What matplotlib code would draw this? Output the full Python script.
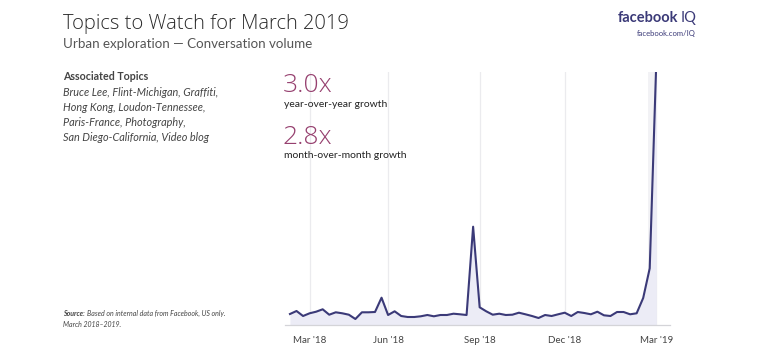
import matplotlib
matplotlib.use("Agg")
import matplotlib.pyplot as plt

plt.rcParams["font.family"] = ["Lato", "DejaVu Sans"]

# weekly conversation volume (relative units), Feb 2018 - Mar 2019
volume = [11, 14, 9, 11.7, 13.3, 15.7, 10.3, 12.7, 11.7, 10.3,
          6, 12.7, 12.7, 13, 27.3, 10, 13.7, 9, 8, 8,
          8.7, 10, 8.7, 10, 10, 11.3, 10.7, 10, 98.3, 17.7,
          13.7, 10.3, 11.3, 10, 10.3, 12.3, 10.7, 9, 7, 10,
          9, 10.7, 12.3, 9, 13, 12, 10.7, 13.3, 9.7, 9,
          13, 13, 10.7, 11.7, 27, 56.7, 262]
tick_weeks = [3, 15, 29, 42, 56]
tick_labels = ["Mar '18", "Jun '18", "Sep '18", "Dec '18", "Mar '19"]
topics = ["Bruce Lee, Flint-Michigan, Graffiti,",
          "Hong Kong, Loudon-Tennessee,",
          "Paris-France, Photography,",
          "San Diego-California, Video blog"]
yoy = "3.0x"
mom = "2.8x"

navy = "#3b3a78"
plum = "#96406f"
light_font = ["Open Sans", "Lato", "DejaVu Sans"]

fig = plt.figure(figsize=(7.7, 3.64), dpi=100)
fig.patch.set_facecolor("white")

ax = fig.add_axes([285 / 770, 39 / 364, 385 / 770, 253 / 364])
weeks = list(range(len(volume)))
ax.axvspan(weeks[-2] - 0.3, weeks[-1], color="#f2f2f5", lw=0, zorder=0)
for t in tick_weeks:
    ax.axvline(t, color="#ebebee", lw=0.9, zorder=0)
ax.fill_between(weeks, volume, 0, color="#ececf6", lw=0, zorder=1)
ax.plot(weeks, volume, color=navy, lw=1.5, zorder=3)
ax.set_xlim(-0.76, 58.1)
ax.set_ylim(0, 253)
ax.set_yticks([])
ax.set_xticks(tick_weeks)
ax.set_xticklabels(tick_labels, fontsize=7, color="#444444")
ax.tick_params(axis="x", length=0, pad=8)
for s in ["top", "right", "left"]:
    ax.spines[s].set_visible(False)
ax.spines["bottom"].set_color("#d4d4d8")
ax.spines["bottom"].set_linewidth(0.9)

# headline
fig.text(63 / 770, 1 - 29 / 364, "Topics to Watch for March 2019", fontsize=14.5,
         family=light_font, fontweight="light", color="#2a2a2a")
fig.text(63 / 770, 1 - 48 / 364, "Urban exploration \u2014 Conversation volume",
         fontsize=9.6, color="#555555")

# logo
fig.text(678 / 770, 1 - 22 / 364, "facebook", fontsize=10.5, fontweight="bold",
         color=navy, ha="right")
fig.text(681 / 770, 1 - 22 / 364, "IQ", fontsize=10.5, color=navy, ha="left")
fig.text(696 / 770, 1 - 36 / 364, "facebook.com/IQ", fontsize=5.5, color=navy,
         ha="right")

# associated topics
fig.text(63 / 770, 1 - 80 / 364, "Associated Topics", fontsize=7.7,
         fontweight="bold", color="#444444")
for i, line in enumerate(topics):
    fig.text(63 / 770, 1 - (96 + 15 * i) / 364, line, fontsize=7.8,
             style="italic", color="#444444")

# growth callouts
fig.text(283 / 770, 1 - 92 / 364, yoy, fontsize=19, family=light_font,
         fontweight="light", color=plum)
fig.text(284 / 770, 1 - 107 / 364, "year-over-year growth", fontsize=7.5, color="#222222")
fig.text(283 / 770, 1 - 144 / 364, mom, fontsize=19, family=light_font,
         fontweight="light", color=plum)
fig.text(284 / 770, 1 - 158 / 364, "month-over-month growth", fontsize=7.5, color="#222222")

# source
fig.text(63 / 770, 1 - 316 / 364, "Source:", fontsize=5, fontweight="bold",
         style="italic", color="#444444")
fig.text(87 / 770, 1 - 316 / 364, "Based on internal data from Facebook, US only.",
         fontsize=5, style="italic", color="#444444")
fig.text(63 / 770, 1 - 327 / 364, "March 2018\u20132019.", fontsize=5,
         style="italic", color="#444444")

fig.savefig("out.png", dpi=100, facecolor="white")
